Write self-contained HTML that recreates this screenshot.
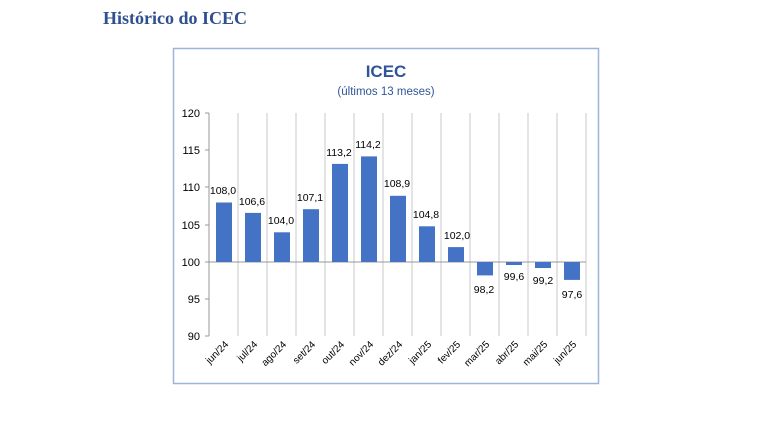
<!DOCTYPE html><html><head><meta charset="utf-8"><style>body{margin:0;background:#fff}</style></head><body>
<svg width="762" height="426" xmlns="http://www.w3.org/2000/svg" font-family="Liberation Sans, sans-serif">
<rect width="762" height="426" fill="#fff"/>
<text x="103" y="24" font-family="Liberation Serif, serif" font-weight="bold" font-size="18" fill="#2f4f8f">Histórico do ICEC</text>
<rect x="173.5" y="48.5" width="425" height="335" fill="#fff" stroke="#9db4dc" stroke-width="1.5"/>
<text x="386" y="77" text-anchor="middle" font-weight="bold" font-size="17" fill="#2f5597">ICEC</text>
<text x="386" y="95" text-anchor="middle" font-size="11.5" fill="#2f5597">(últimos 13 meses)</text>
<g stroke="#c8c8c8" stroke-width="1">
<line x1="238" y1="113" x2="238" y2="336"/><line x1="267" y1="113" x2="267" y2="336"/><line x1="296" y1="113" x2="296" y2="336"/><line x1="325" y1="113" x2="325" y2="336"/><line x1="354" y1="113" x2="354" y2="336"/><line x1="383" y1="113" x2="383" y2="336"/><line x1="412" y1="113" x2="412" y2="336"/><line x1="441" y1="113" x2="441" y2="336"/><line x1="470" y1="113" x2="470" y2="336"/><line x1="499" y1="113" x2="499" y2="336"/><line x1="528" y1="113" x2="528" y2="336"/><line x1="557" y1="113" x2="557" y2="336"/><line x1="586" y1="113" x2="586" y2="336"/>
</g>
<g stroke="#999"><line x1="209" y1="113" x2="209" y2="336"/><line x1="209" y1="262" x2="586" y2="262"/>
<line x1="205" y1="113" x2="209" y2="113"/><line x1="205" y1="150" x2="209" y2="150"/><line x1="205" y1="187" x2="209" y2="187"/><line x1="205" y1="225" x2="209" y2="225"/><line x1="205" y1="262" x2="209" y2="262"/><line x1="205" y1="299" x2="209" y2="299"/><line x1="205" y1="336" x2="209" y2="336"/></g>
<g font-size="11" text-anchor="end" fill="#000">
<text x="200" y="117">120</text><text x="200" y="154">115</text><text x="200" y="191">110</text><text x="200" y="229">105</text><text x="200" y="266">100</text><text x="200" y="303">95</text><text x="200" y="340">90</text></g>
<g fill="#4472c4">
<rect x="216" y="202.5" width="16" height="59.5"/>
<rect x="245" y="212.9" width="16" height="49.1"/>
<rect x="274" y="232.3" width="16" height="29.7"/>
<rect x="303" y="209.2" width="16" height="52.8"/>
<rect x="332" y="163.9" width="16" height="98.1"/>
<rect x="361" y="156.4" width="16" height="105.6"/>
<rect x="390" y="195.8" width="16" height="66.2"/>
<rect x="419" y="226.3" width="16" height="35.7"/>
<rect x="448" y="247.1" width="16" height="14.9"/>
<rect x="477" y="262" width="16" height="13.4"/>
<rect x="506" y="262" width="16" height="3"/>
<rect x="535" y="262" width="16" height="6"/>
<rect x="564" y="262" width="16" height="17.9"/>
</g>
<g font-size="10.5" text-anchor="middle" fill="#000">
<text x="223" y="194">108,0</text><text x="252" y="205">106,6</text><text x="281" y="224">104,0</text><text x="310" y="201">107,1</text><text x="339" y="156">113,2</text><text x="368" y="148">114,2</text><text x="397" y="187">108,9</text><text x="426" y="218">104,8</text><text x="457" y="239">102,0</text>
<text x="484" y="293">98,2</text><text x="514" y="280">99,6</text><text x="543" y="284">99,2</text><text x="572" y="298">97,6</text></g>
<g font-size="10" text-anchor="end" fill="#000">
<text transform="translate(229,345) rotate(-45)">jun/24</text>
<text transform="translate(258,345) rotate(-45)">jul/24</text>
<text transform="translate(287,345) rotate(-45)">ago/24</text>
<text transform="translate(316,345) rotate(-45)">set/24</text>
<text transform="translate(345,345) rotate(-45)">out/24</text>
<text transform="translate(374,345) rotate(-45)">nov/24</text>
<text transform="translate(403,345) rotate(-45)">dez/24</text>
<text transform="translate(432,345) rotate(-45)">jan/25</text>
<text transform="translate(461,345) rotate(-45)">fev/25</text>
<text transform="translate(490,345) rotate(-45)">mar/25</text>
<text transform="translate(519,345) rotate(-45)">abr/25</text>
<text transform="translate(548,345) rotate(-45)">mai/25</text>
<text transform="translate(577,345) rotate(-45)">jun/25</text>
</g>
</svg></body></html>
